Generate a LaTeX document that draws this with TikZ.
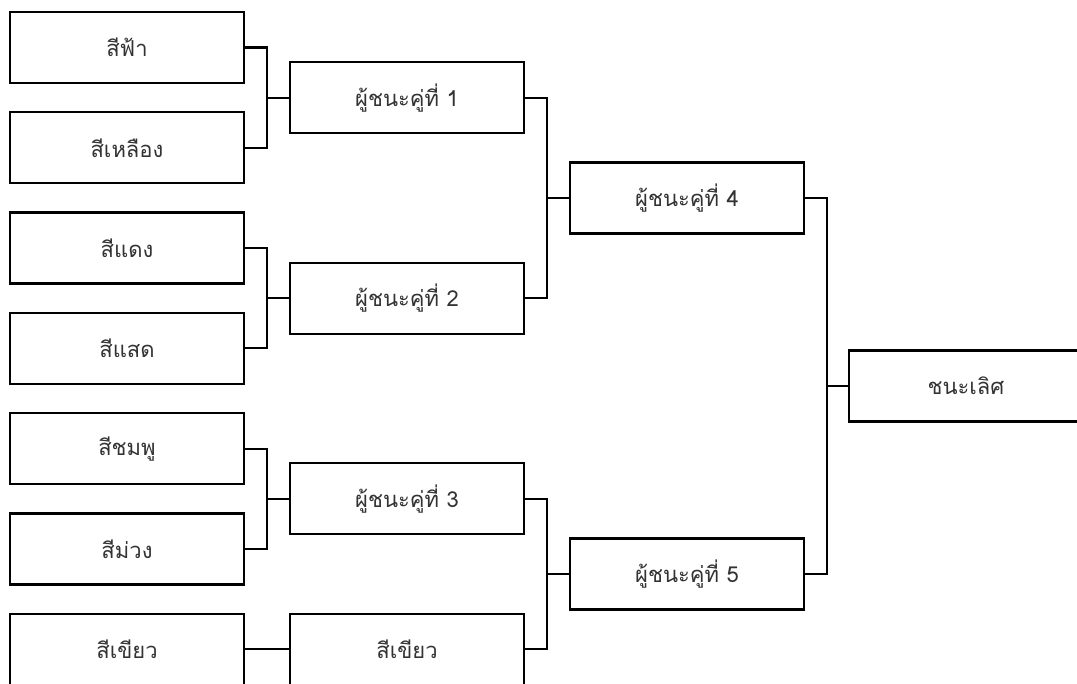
\documentclass[tikz,border=0pt]{standalone}
\usepackage{fontspec}
\newfontfamily\thaifont[Script=Thai]{Loma}
\usetikzlibrary{calc, positioning}
\tikzset{
  team/.style={rectangle,draw,line width=2.2pt,outer sep=0pt,inner sep=0pt,minimum width=234pt,minimum height=71pt,font=\thaifont\fontsize{22}{25}\selectfont,text=black!80},
  bracket/.style={line width=2.2pt}
}

\begin{document}
\begin{tikzpicture}[x=1pt,y=1pt]
  \useasboundingbox (0,0) rectangle (1077,-684);
  % first round
  \node[team] (fa) at (127,-47.5) {สีฟ้า};
  \node[team, below=29.3pt of fa] (lueang) {สีเหลือง};
  \node[team, below=29.3pt of lueang] (daeng) {สีแดง};
  \node[team, below=29.3pt of daeng] (saed) {สีแสด};
  \node[team, below=29.3pt of saed] (chomphu) {สีชมพู};
  \node[team, below=29.3pt of chomphu] (muang) {สีม่วง};
  \node[team, below=29.3pt of muang] (khiao) {สีเขียว};
  % second round
  \coordinate (m1) at ($(fa.east)!.5!(lueang.east)$);
  \coordinate (m2) at ($(daeng.east)!.5!(saed.east)$);
  \coordinate (m3) at ($(chomphu.east)!.5!(muang.east)$);
  \node[team, right=46pt of m1] (win1) {ผู้ชนะคู่ที่ 1};
  \node[team, right=46pt of m2] (win2) {ผู้ชนะคู่ที่ 2};
  \node[team, right=46pt of m3] (win3) {ผู้ชนะคู่ที่ 3};
  \node[team, right=46pt of khiao] (khiaoB) {สีเขียว};
  % third round
  \coordinate (m4) at ($(win1.east)!.5!(win2.east)$);
  \coordinate (m5) at ($(win3.east)!.5!(khiaoB.east)$);
  \node[team, right=46pt of m4] (win4) {ผู้ชนะคู่ที่ 4};
  \node[team, right=46pt of m5] (win5) {ผู้ชนะคู่ที่ 5};
  % final
  \coordinate (m6) at ($(win4.east)!.5!(win5.east)$);
  \node[team, right=45pt of m6] (champ) {ชนะเลิศ};
  % brackets
  \draw[bracket] (fa.east) -- ++(23,0) |- (win1.west);
  \draw[bracket] (lueang.east) -- ++(23,0) |- (win1.west);
  \draw[bracket] (daeng.east) -- ++(23,0) |- (win2.west);
  \draw[bracket] (saed.east) -- ++(23,0) |- (win2.west);
  \draw[bracket] (chomphu.east) -- ++(23,0) |- (win3.west);
  \draw[bracket] (muang.east) -- ++(23,0) |- (win3.west);
  \draw[bracket] (khiao.east) -- (khiaoB.west);
  \draw[bracket] (win1.east) -- ++(23,0) |- (win4.west);
  \draw[bracket] (win2.east) -- ++(23,0) |- (win4.west);
  \draw[bracket] (win3.east) -- ++(23,0) |- (win5.west);
  \draw[bracket] (khiaoB.east) -- ++(23,0) |- (win5.west);
  \draw[bracket] (win4.east) -- ++(23,0) |- (champ.west);
  \draw[bracket] (win5.east) -- ++(23,0) |- (champ.west);
\end{tikzpicture}
\end{document}
